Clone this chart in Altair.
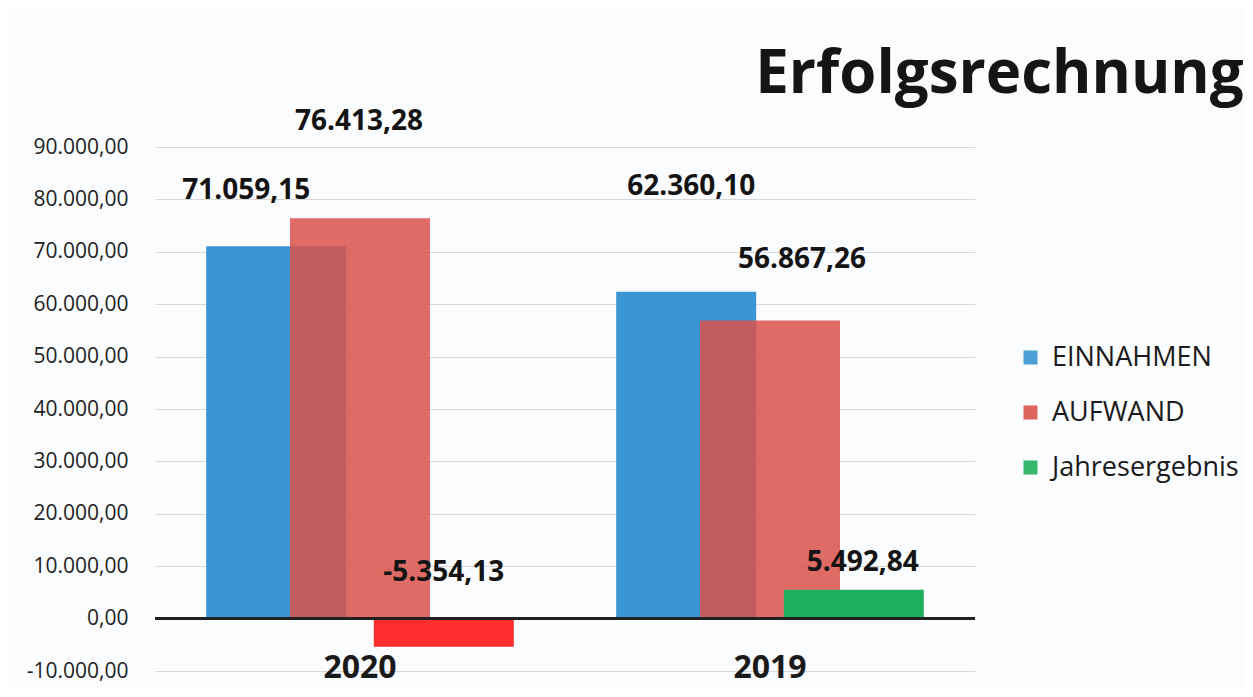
import altair as alt
import pandas as pd

# ---- data ----
jahre = ["2020", "2019"]
serien = ["EINNAHMEN", "AUFWAND", "Jahresergebnis"]
einnahmen = [71059.15, 62360.10]
aufwand = [76413.28, 56867.26]
jahresergebnis = [-5354.13, 5492.84]
y_ticks = [-10000, 0, 10000, 20000, 30000, 40000, 50000, 60000, 70000, 80000, 90000]

# label nudges in pixels (layout only), per (jahr, serie)
label_dx = {("2020", "EINNAHMEN"): -30, ("2020", "AUFWAND"): -1, ("2020", "Jahresergebnis"): 0,
            ("2019", "EINNAHMEN"): 5, ("2019", "AUFWAND"): 32, ("2019", "Jahresergebnis"): 9}
label_dy = {("2020", "EINNAHMEN"): -55, ("2020", "AUFWAND"): -96, ("2020", "Jahresergebnis"): -46,
            ("2019", "EINNAHMEN"): -105, ("2019", "AUFWAND"): -61, ("2019", "Jahresergebnis"): -27}

rows = []
for k, (s, vals) in enumerate(zip(serien, [einnahmen, aufwand, jahresergebnis])):
    for j, v in zip(jahre, vals):
        rows.append({"jahr": j, "serie": s, "wert": v, "ord": k,
                     "ldx": label_dx[(j, s)], "ldy": label_dy[(j, s)]})
df = pd.DataFrame(rows)

FONT = "Open Sans"
W, H = 820, 524

x_enc = alt.X("jahr:N", sort=jahre, title=None,
              scale=alt.Scale(paddingInner=0, paddingOuter=0),
              axis=alt.Axis(labelFontSize=32, labelFont=FONT, labelFontWeight="bold",
                            labelColor="#1a1a1a", labelAngle=0, ticks=False, domain=False,
                            labelBaseline="middle", labelPadding=-4, grid=False))
xo_enc = alt.XOffset("serie:N", sort=serien,
                     scale=alt.Scale(paddingInner=0, paddingOuter=0.946))
y_scale = alt.Scale(domain=[-10000, 90000], nice=False, zero=False)

colors = alt.Scale(domain=serien, range=["#3b95d4", "#da534d", "#1faf5e"])

bars = alt.Chart(df).mark_bar(width=140).encode(
    x=x_enc,
    xOffset=xo_enc,
    y=alt.Y("wert:Q", scale=y_scale, title=None,
            axis=alt.Axis(values=y_ticks, format=",.2f", labelFontSize=21, labelFont=FONT,
                          labelColor="#222222", labelPadding=27, ticks=False, domain=False,
                          grid=True, gridColor="#d6d8dc", gridWidth=1.2)),
    color=alt.when(alt.datum.wert < 0).then(alt.value("#ff2e2e")).otherwise(
        alt.Color("serie:N", scale=colors, title=None,
                  legend=alt.Legend(orient="none", legendX=862, legendY=197,
                                    symbolType="square", symbolSize=196,
                                    symbolStrokeWidth=0, symbolOpacity=0.9,
                                    labelFontSize=27, labelLimit=0,
                                    labelFont=FONT, labelColor="#1a1a1a",
                                    labelOffset=8, rowPadding=27))),
    opacity=alt.when(alt.datum.serie == "AUFWAND").then(alt.value(0.86)).otherwise(alt.value(1.0)),
    order=alt.Order("ord:Q"),
)

zero = alt.Chart(df).mark_rule(color="#222222", strokeWidth=2.5).encode(y=alt.datum(0))

labels = alt.Chart(df).transform_calculate(
    ypos="max(datum.wert, 0)"
).mark_text(fontSize=28, font=FONT, fontWeight="bold", color="#141414",
            baseline="middle", align="center",
            dx=alt.expr("datum.ldx"), dy=alt.expr("datum.ldy")).encode(
    x=x_enc,
    xOffset=xo_enc,
    y=alt.Y("ypos:Q", scale=y_scale),
    text=alt.Text("wert:Q", format=",.2f"),
)

chart = alt.layer(bars, zero, labels).properties(
    width=W, height=H,
    autosize=alt.AutoSizeParams(type="none"),
    padding={"left": 147, "top": 139, "right": 270, "bottom": 18},
    background="#fbfcfe",
    title=alt.TitleParams("Erfolgsrechnung", anchor="start", align="left", fontSize=60,
                          font=FONT, fontWeight="bold", color="#151515", dx=729, offset=2),
).configure(
    locale={"number": {"decimal": ",", "thousands": ".", "grouping": [3],
                       "currency": ["", " €"], "minus": "-"}}
).configure_view(stroke=None)

chart.save("out.html", embed_options={"renderer": "svg", "actions": False})
